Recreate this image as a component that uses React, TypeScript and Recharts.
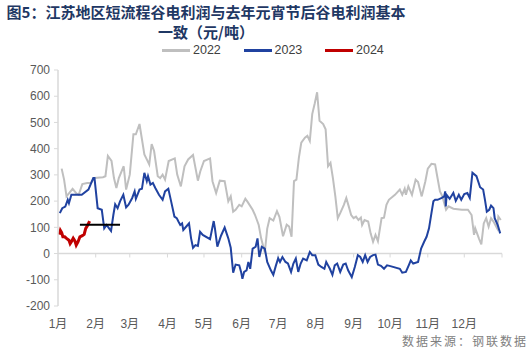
import React from 'react'
import {
  LineChart,
  Line,
  XAxis,
  YAxis,
  ReferenceLine,
  Legend,
} from 'recharts'

// day of year -> profit (元/吨)
const SERIES_2022: [number, number][] = [
  [3, 324], [5, 282], [7, 218], [8, 224], [12, 247], [15, 230], [17, 224], [20, 265],
  [24, 269], [27, 269], [30, 288], [37, 291], [39, 295], [41, 372], [44, 353], [46, 288],
  [48, 250], [50, 288], [54, 333], [56, 244], [59, 301], [62, 455], [64, 455], [67, 494],
  [71, 378], [73, 359], [75, 340], [77, 417], [79, 391], [82, 295], [84, 288], [86, 301],
  [88, 282], [91, 353], [96, 363], [98, 301], [101, 256], [104, 333], [107, 359], [111, 376],
  [115, 278], [117, 314], [120, 353], [125, 363], [127, 276], [130, 231], [133, 278], [137, 276],
  [140, 199], [142, 218], [144, 160], [146, 167], [149, 186], [151, 180], [154, 209], [156, 196],
  [160, 167], [162, 147], [165, 109], [167, 58], [170, 4], [172, 95], [174, 135], [177, 126],
  [180, 162], [182, 140], [185, 66], [188, 110], [190, 103], [192, 64], [194, 276], [196, 282],
  [198, 365], [200, 423], [203, 442], [205, 449], [207, 429], [209, 532], [211, 571], [213, 615],
  [215, 506], [218, 494], [220, 474], [222, 333], [224, 346], [226, 288], [228, 218], [230, 135],
  [232, 154], [235, 186], [237, 212], [239, 180], [241, 147], [243, 135], [245, 141], [247, 128],
  [249, 137], [250, 109], [252, 128], [255, 122], [257, 77], [259, 45], [261, 71], [263, 47],
  [266, 135], [268, 137], [270, 186], [272, 205], [277, 224], [281, 244], [283, 224], [285, 247],
  [286, 224], [288, 256], [291, 224], [294, 282], [296, 273], [299, 218], [302, 276], [304, 324],
  [307, 342], [310, 340], [312, 288], [314, 237], [316, 218], [319, 167], [321, 180], [325, 171],
  [332, 167], [337, 167], [340, 147], [342, 71], [343, 96], [346, 58], [348, 35], [350, 115],
  [352, 135], [354, 103], [356, 135], [358, 122], [361, 96], [362, 141], [364, 128],
]

const SERIES_2023: [number, number][] = [
  [1.5, 154], [3.5, 173], [6, 179], [8, 205], [9, 192], [11, 224], [14, 224], [19.5, 224],
  [25, 244], [29, 288], [30, 288], [32.6, 173], [36, 167], [38, 96], [40, 109], [42, 96],
  [43.6, 86], [45.5, 147], [47, 188], [49, 173], [51, 199], [53.7, 224], [56, 176], [58, 186],
  [61, 212], [63, 237], [64, 209], [67, 244], [69, 247], [71, 308], [73, 276], [74, 295],
  [76, 263], [78, 269], [80, 250], [83, 224], [86, 205], [88, 237], [90.7, 247], [93, 199],
  [95.7, 141], [97.6, 135], [99, 122], [100.5, 109], [102, 115], [103, 90], [106, 106], [107.7, 115],
  [109.4, 58], [111, 22], [113, 32], [115, 29], [116.8, 83], [119, 71], [125, 55], [128, 124],
  [129, 96], [131, 26], [134, 68], [137, 99], [140, 58], [142, 22], [144, -73], [146, -42],
  [149, -45], [150.5, -70], [151.6, -96], [153, -70], [155, -64], [156.5, -32], [158, -58], [160, 19],
  [162.5, 26], [164, 58], [165.5, -13], [167.5, 26], [170, 19], [172, -32], [175, -64], [177, -81],
  [179, -48], [181, -18], [182.5, -32], [184.5, -13], [187, -32], [189, -38], [191.6, -70], [193.5, -38],
  [195.5, -19], [197.5, -70], [199.5, -38], [201.5, -19], [204.5, -26], [207, 6], [209, -6], [211.5, -6],
  [214, -42], [216.5, -51], [219, -58], [220.5, -32], [222, -45], [223.5, -58], [225.6, -81], [227.5, -45],
  [229.5, -38], [232, -70], [234.5, -42], [236.5, -38], [238.5, -64], [241.5, -90], [244, -51], [246.5, -6],
  [248.5, -13], [250.5, -32], [252.5, -6], [254.5, -32], [256.6, -13], [259, -6], [261, -4], [263, -42],
  [265.5, -47], [268, -58], [270.5, -45], [272.5, -47], [281, -58], [283, -73], [286, -70], [288.6, -42],
  [290, -26], [292, -38], [296, -32], [298.5, 19], [301, 45], [303, 64], [305, 96], [307, 154],
  [308.6, 199], [310, 205], [312, 205], [315.5, 212], [317.5, 218], [318.3, 237], [318.8, 180], [319.5, 224],
  [322, 209], [325, 231], [327, 201], [329.5, 224], [331.5, 205], [334, 227], [336.5, 231], [338.5, 212],
  [340.7, 308], [344, 295], [347, 253], [349.5, 244], [351, 205], [352.5, 160], [354.5, 167], [356, 183],
  [358, 173], [359, 135], [361.5, 109], [363.5, 77],
]

const SERIES_2024: [number, number][] = [
  [1.2, 72], [2, 88], [3, 80], [4, 64], [5.5, 64], [7, 58], [9, 51], [10, 38],
  [11, 45], [12.5, 58], [14, 47], [15, 32], [16.5, 45], [18, 64], [20, 68], [21.5, 73],
  [22.8, 96], [24.5, 109], [26, 124],
]

// 元宵节后 reference level
const REF_SEGMENT: [number, number][] = [
  [18, 110], [51, 110],
]

const MONTH_STARTS = [0, 31, 59, 90, 120, 151, 181, 212, 243, 273, 304, 334, 365]
const MONTH_LABELS = ['1月', '2月', '3月', '4月', '5月', '6月', '7月', '8月', '9月', '10月', '11月', '12月']
const Y_TICKS = [-200, -100, 0, 100, 200, 300, 400, 500, 600, 700]

const SERIES = [
  { name: '2022', data: SERIES_2022, color: '#bfbfbf', width: 2 },
  { name: '2023', data: SERIES_2023, color: '#2042a0', width: 2 },
  { name: '2024', data: SERIES_2024, color: '#c00000', width: 3 },
]

const toRows = (s: [number, number][]) => s.map(([d, v]) => ({ d, v }))

const axisFont = '"Liberation Sans", Arial, "Noto Sans CJK SC", sans-serif'

function LegendContent() {
  return (
    <div style={{ display: 'flex', paddingLeft: 162, fontFamily: axisFont, fontSize: 12.5, lineHeight: '14px', color: '#404040' }}>
      {SERIES.map((s) => (
        <div key={s.name} style={{ display: 'flex', alignItems: 'center', width: 81.5 }}>
          <span style={{ display: 'inline-block', width: 28, height: 3, background: s.color, marginRight: 3 }} />
          <span>{s.name}</span>
        </div>
      ))}
    </div>
  )
}

export default function App() {
  return (
    <div style={{ position: 'absolute', left: 0, top: 0, width: 531, height: 352, background: '#fff', overflow: 'hidden' }}>
      <div
        style={{
          position: 'absolute',
          left: 0,
          top: 2,
          width: 412,
          textAlign: 'center',
          fontFamily: '"Noto Sans CJK SC", sans-serif',
          fontWeight: 700,
          fontSize: 15,
          lineHeight: '20px',
          color: '#1f3864',
        }}
      >
        图5：江苏地区短流程谷电利润与去年元宵节后谷电利润基本
        <br />
        一致（元/吨）
      </div>
      <LineChart width={531} height={352} margin={{ top: 56, right: 29, bottom: 16, left: 0 }}>
        <XAxis
          dataKey="d"
          type="number"
          domain={[0, 365]}
          ticks={MONTH_STARTS}
          tickFormatter={(v: number) => MONTH_LABELS[MONTH_STARTS.indexOf(v)] ?? ''}
          axisLine={false}
          tickLine={false}
          tickSize={6}
          tickMargin={7}
          height={30}
          interval={0}
          tick={{ fontSize: 12, fill: '#595959', fontFamily: axisFont }}
          allowDuplicatedCategory={false}
        />
        <YAxis
          domain={[-200, 700]}
          ticks={Y_TICKS}
          width={58}
          axisLine={{ stroke: '#d9d9d9', strokeWidth: 1.5 }}
          tickLine={{ stroke: '#d9d9d9' }}
          tickSize={4}
          tickMargin={4}
          interval={0}
          tick={{ fontSize: 12, fill: '#595959', fontFamily: axisFont }}
        />
        <Legend verticalAlign="top" height={14} wrapperStyle={{ top: 43, left: 0, width: 531 }} content={() => <LegendContent />} />
        <ReferenceLine y={0} stroke="#d9d9d9" strokeWidth={1.5} />
        {MONTH_STARTS.slice(1).map((d) => (
          <ReferenceLine key={d} segment={[{ x: d, y: 0 }, { x: d, y: -15 }]} stroke="#d9d9d9" />
        ))}
        {SERIES.map((s) => (
          <Line
            key={s.name}
            data={toRows(s.data)}
            dataKey="v"
            name={s.name}
            type="linear"
            stroke={s.color}
            strokeWidth={s.width}
            dot={false}
            isAnimationActive={false}
          />
        ))}
        <Line
          data={toRows(REF_SEGMENT)}
          dataKey="v"
          name="ref"
          legendType="none"
          stroke="#000"
          strokeWidth={2}
          dot={false}
          isAnimationActive={false}
        />
      </LineChart>
      <div
        style={{
          position: 'absolute',
          right: 3,
          top: 332,
          fontFamily: '"Noto Sans CJK SC", sans-serif',
          fontSize: 12,
          letterSpacing: 2,
          color: '#808080',
        }}
      >
        数据来源：钢联数据
      </div>
    </div>
  )
}
